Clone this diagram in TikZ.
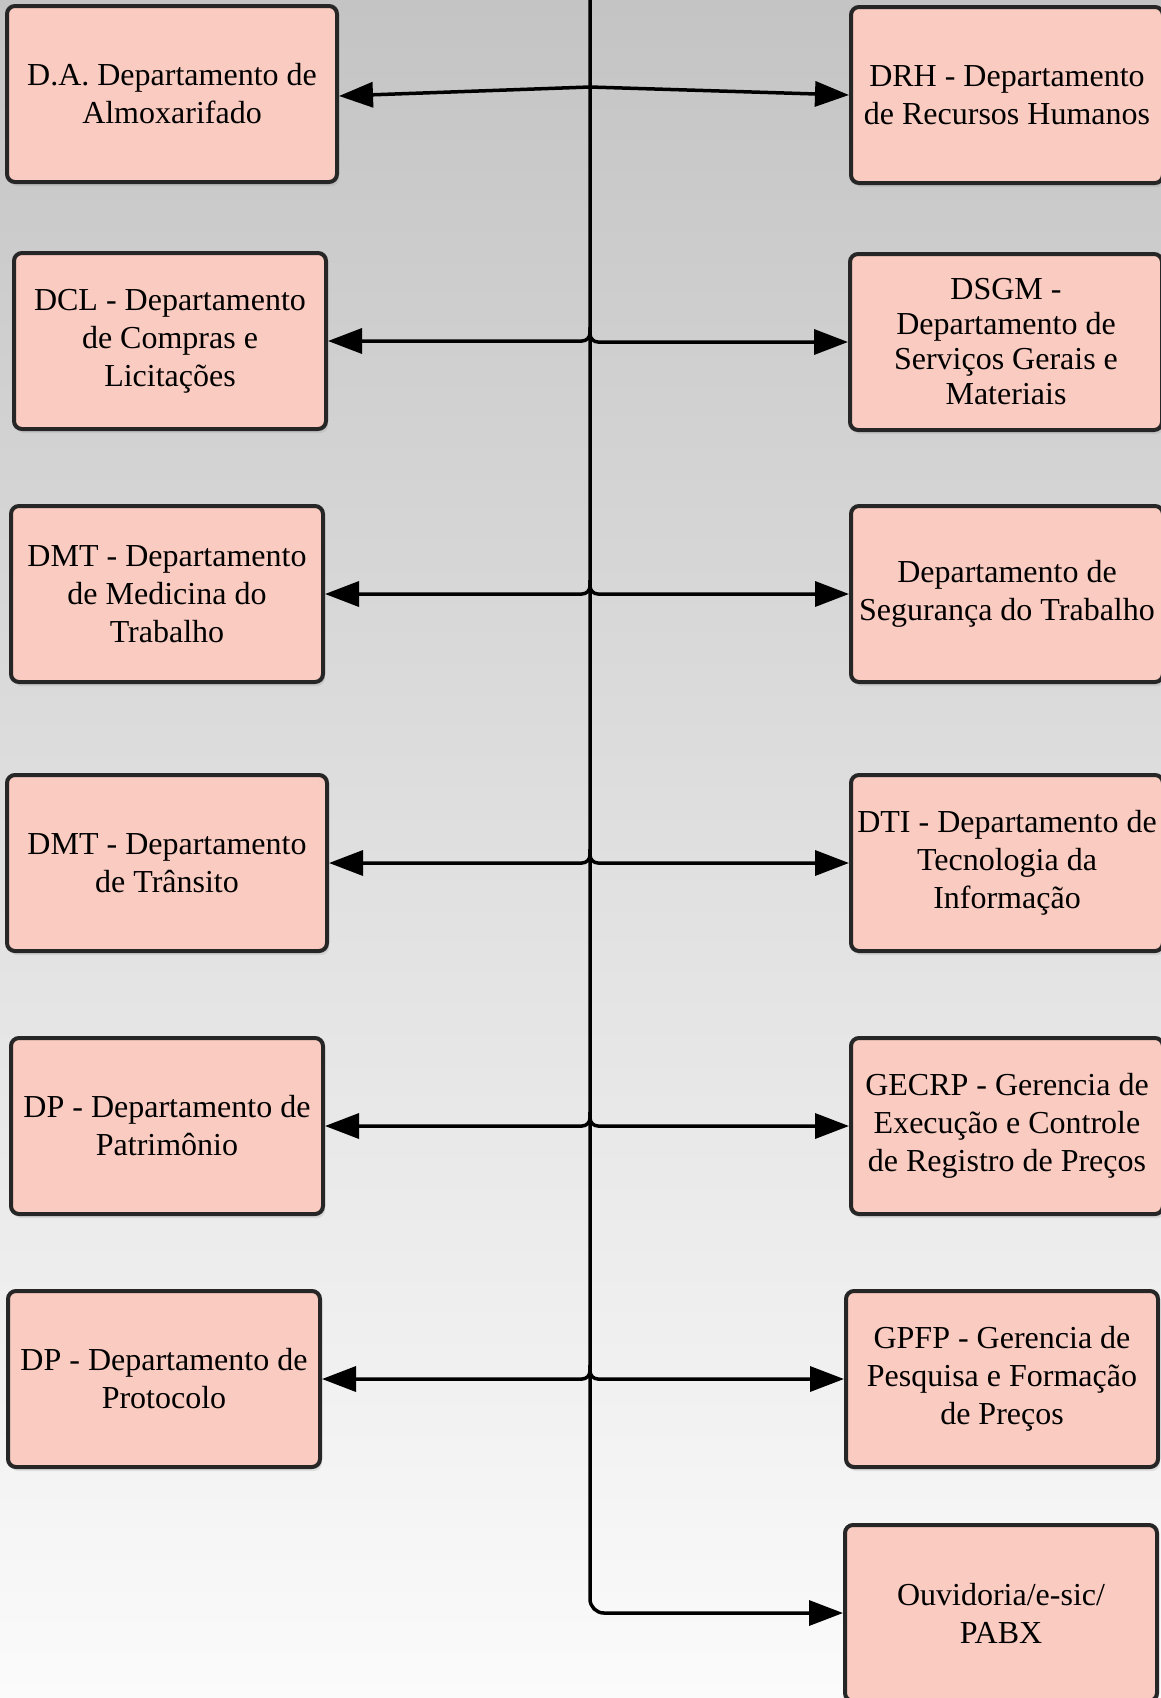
\documentclass[tikz,border=0pt]{standalone}
\usepackage{fontspec}
\setmainfont{Liberation Serif}
\usetikzlibrary{arrows.meta,shadows}
\definecolor{caixa}{RGB}{250,203,192}
\definecolor{fundotopo}{RGB}{196,196,196}
\definecolor{fundobase}{RGB}{251,251,251}
\begin{document}
\begin{tikzpicture}[x=1pt, y=-1pt,
    every node/.style = {align=center, font=\fontsize{32}{38}\selectfont},
    depto/.style = {draw=black!85, line width=4pt, fill=caixa, rounded corners=8pt,
        minimum width=312pt, minimum height=176pt, inner sep=2pt,
        drop shadow={shadow xshift=2pt, shadow yshift=-4pt, opacity=.18}},
    seta/.style = {line width=3.5pt, -{Triangle[length=34pt,width=25pt]}}]
  \useasboundingbox (0,0) rectangle (1161,1698);
  \shade[top color=fundotopo, bottom color=fundobase] (0,0) rectangle (1161,1698);
  % coluna esquerda
  \node[depto, minimum width=330pt] (da) at (172,94) {D.A. Departamento de\\Almoxarifado};
  \node[depto] (dcl) at (170,341) {DCL - Departamento\\de Compras e\\Licitações};
  \node[depto] (dmtm) at (167,594) {DMT - Departamento\\de Medicina do\\Trabalho};
  \node[depto, minimum width=320pt] (dmtt) at (167,863) {DMT - Departamento\\de Trânsito};
  \node[depto] (dpp) at (167,1126) {DP - Departamento de\\Patrimônio};
  \node[depto] (dpr) at (164,1379) {DP - Departamento de\\Protocolo};
  % coluna direita
  \node[depto] (drh) at (1007,95) {DRH - Departamento\\de Recursos Humanos};
  \node[depto, font=\fontsize{32}{35}\selectfont] (dsgm) at (1006,342) {DSGM -\\Departamento de\\Serviços Gerais e\\Materiais};
  \node[depto] (dst) at (1007,594) {Departamento de\\Segurança do Trabalho};
  \node[depto] (dti) at (1007,863) {DTI - Departamento de\\Tecnologia da\\Informação};
  \node[depto] (gecrp) at (1007,1126) {GECRP - Gerencia de\\Execução e Controle\\de Registro de Preços};
  \node[depto] (gpfp) at (1002,1379) {GPFP - Gerencia de\\Pesquisa e Formação\\de Preços};
  \node[depto] (ouv) at (1001,1613) {Ouvidoria/e-sic/\\PABX};
  % ligacoes
  \coordinate (topo) at (590,0);
  \coordinate (j) at (590,87);
  \draw[seta, rounded corners=14pt] (topo) |- (ouv.west);
  \draw[seta] (j) -- ([yshift=-2pt]da.east);
  \draw[seta] (j) -- (drh.west);
  \foreach \a/\b in {dcl/dsgm, dmtm/dst, dmtt/dti, dpp/gecrp, dpr/gpfp} {
    \draw[seta, rounded corners=8pt] ([yshift=14pt]topo |- \a.east) |- (\a.east);
    \draw[seta, rounded corners=8pt] ([yshift=14pt]topo |- \b.west) |- (\b.west);
  }
\end{tikzpicture}
\end{document}
